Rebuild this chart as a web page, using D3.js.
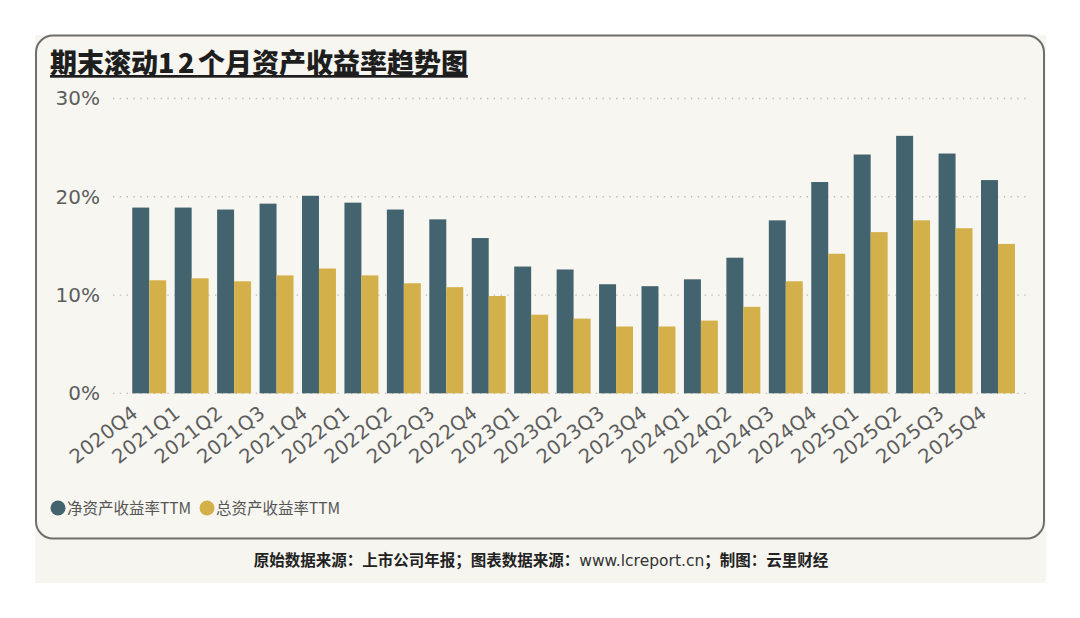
<!DOCTYPE html>
<html>
<head>
<meta charset="utf-8">
<title>期末滚动12个月资产收益率趋势图</title>
<script src="https://cdn.jsdelivr.net/npm/d3@7"></script>
<style>
  html, body { margin: 0; padding: 0; background: #fff; }
  svg { display: block; }
</style>
</head>
<body>
<svg id="chart" width="1080" height="618"></svg>
<script>
// data (percent)
const quarters = ["2020Q4","2021Q1","2021Q2","2021Q3","2021Q4","2022Q1","2022Q2","2022Q3","2022Q4",
  "2023Q1","2023Q2","2023Q3","2023Q4","2024Q1","2024Q2","2024Q3","2024Q4","2025Q1","2025Q2","2025Q3","2025Q4"];
const roeTTM = [18.9, 18.9, 18.7, 19.3, 20.1, 19.4, 18.7, 17.7, 15.8, 12.9, 12.6, 11.1, 10.9, 11.6, 13.8, 17.6, 21.5, 24.3, 26.2, 24.4, 21.7];
const roaTTM = [11.5, 11.7, 11.4, 12.0, 12.7, 12.0, 11.2, 10.8, 9.9, 8.0, 7.6, 6.8, 6.8, 7.4, 8.8, 11.4, 14.2, 16.4, 17.6, 16.8, 15.2];
const seriesNames = ["净资产收益率TTM", "总资产收益率TTM"];
const seriesColors = ["#43646f", "#d4b04b"];
const yTicks = [0, 10, 20, 30];

const svg = d3.select("#chart");
const cjk = "'Noto Sans CJK SC', 'DejaVu Sans', sans-serif";
const latin = "'DejaVu Sans', Verdana, sans-serif";

// background + card
svg.append("rect").attr("x", 35).attr("y", 35).attr("width", 1011).attr("height", 548)
  .attr("fill", "#f6f5f0");
svg.append("rect").attr("x", 36).attr("y", 35.5).attr("width", 1008).attr("height", 503)
  .attr("rx", 17).attr("fill", "#f7f6f1").attr("stroke", "#6f6f6b").attr("stroke-width", 2);

// title
const title = svg.append("text").attr("x", 50).attr("y", 73)
  .attr("font-family", cjk).attr("font-weight", 900).attr("font-size", 27)
  .attr("fill", "#1e1e1e").attr("text-decoration", "underline");
title.append("tspan").text("期末滚动");
title.append("tspan").attr("letter-spacing", 3.5).text("12");
title.append("tspan").text("个月资产收益率趋势图");

// scales
const y = d3.scaleLinear().domain([0, 30]).range([393.3, 98.5]);
const x0 = d3.scaleBand().domain(quarters).range([128, 1019.2]).paddingInner(0.2).paddingOuter(0.1);
const x1 = d3.scaleBand().domain(seriesNames).range([0, x0.bandwidth()]);

// dotted grid
svg.append("g").selectAll("line").data(yTicks).join("line")
  .attr("x1", 113).attr("x2", 1027)
  .attr("y1", d => y(d)).attr("y2", d => y(d))
  .attr("stroke", "#b9b8b2").attr("stroke-width", 1.3)
  .attr("stroke-dasharray", "1.3,5.5");

// y axis labels
const yAxis = svg.append("g").attr("transform", "translate(100,0)")
  .call(d3.axisLeft(y).tickValues(yTicks).tickSize(0).tickPadding(0).tickFormat(d => d + "%"));
yAxis.select(".domain").remove();
yAxis.selectAll("text").attr("font-family", latin).attr("font-size", 20).attr("fill", "#5d5d5d");

// bars
const groups = svg.append("g").selectAll("g").data(quarters).join("g")
  .attr("transform", d => `translate(${x0(d)},0)`);
groups.selectAll("rect")
  .data((q, i) => [roeTTM[i], roaTTM[i]].map((v, k) => ({ name: seriesNames[k], v, k })))
  .join("rect")
  .attr("x", d => x1(d.name))
  .attr("width", x1.bandwidth())
  .attr("y", d => y(d.v))
  .attr("height", d => y(0) - y(d.v))
  .attr("fill", d => seriesColors[d.k]);

// x axis labels, rotated
const xAxis = svg.append("g").attr("transform", `translate(0,${y(0)})`)
  .call(d3.axisBottom(x0).tickSize(0).tickPadding(0));
xAxis.select(".domain").remove();
xAxis.selectAll("text")
  .attr("font-family", latin).attr("font-size", 19.5).attr("fill", "#5d5d5d")
  .attr("letter-spacing", 0.4)
  .attr("text-anchor", "end").attr("dy", null).attr("y", null)
  .attr("transform", "translate(-10,22) rotate(-38)");

// legend
const legend = svg.append("g");
const legX = [58, 207];
seriesNames.forEach((name, i) => {
  legend.append("circle").attr("cx", legX[i]).attr("cy", 508).attr("r", 7.5).attr("fill", seriesColors[i]);
  legend.append("text").attr("x", legX[i] + 9).attr("y", 514)
    .attr("font-family", cjk).attr("font-size", 15.5).attr("fill", "#555")
    .text(name);
});

// source footer
const foot = svg.append("text").attr("x", 541).attr("y", 566).attr("text-anchor", "middle")
  .attr("font-family", cjk).attr("font-size", 15.5).attr("fill", "#222");
foot.append("tspan").attr("font-weight", 700).text("原始数据来源：上市公司年报；图表数据来源：");
foot.append("tspan").attr("font-family", latin).attr("fill", "#333").text("www.lcreport.cn");
foot.append("tspan").attr("font-weight", 700).text("；制图：云里财经");
</script>
</body>
</html>
